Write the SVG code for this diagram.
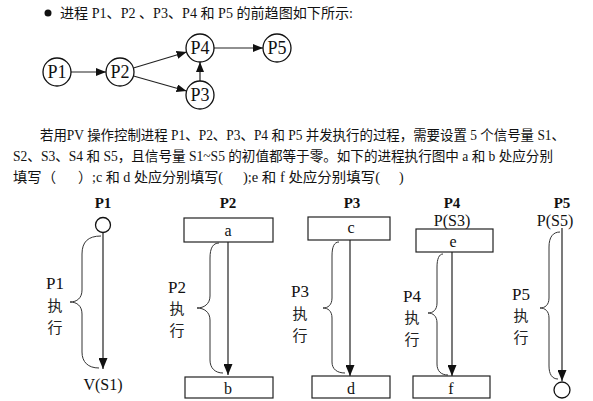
<svg xmlns="http://www.w3.org/2000/svg" width="593" height="401" viewBox="0 0 593 401">
<defs>
<style>
.t{font-family:"Liberation Serif","Times New Roman","Noto Sans CJK SC",serif;font-size:14px;fill:#111}
.n{font-family:"Liberation Serif","Times New Roman",serif;font-size:18px;fill:#111;text-anchor:middle}
.h{font-family:"Liberation Serif","Times New Roman",serif;font-size:15px;font-weight:bold;fill:#111;text-anchor:middle}
.s{font-family:"Liberation Serif","Times New Roman",serif;font-size:16px;fill:#111;text-anchor:middle}
.l{font-family:"Liberation Serif","Times New Roman",serif;font-size:17px;fill:#111;text-anchor:middle}
.c{font-family:"Noto Sans CJK SC",sans-serif;font-size:15px;fill:#222;text-anchor:middle}
.nd{fill:#fff;stroke:#111;stroke-width:1.3}
.bx{fill:#fff;stroke:#222;stroke-width:1.2}
.ln{fill:none;stroke:#222;stroke-width:1.2}
.br{fill:none;stroke:#333;stroke-width:1}
</style>
<marker id="ah" markerUnits="userSpaceOnUse" markerWidth="11" markerHeight="8" refX="10" refY="4" orient="auto"><path d="M0,0 L10,4 L0,8 z" fill="#111"/></marker>
<marker id="ah2" markerUnits="userSpaceOnUse" markerWidth="11" markerHeight="9" refX="11" refY="4.5" orient="auto"><path d="M0,0 L11,4.5 L0,9 z" fill="#111"/></marker>
</defs>
<rect width="593" height="401" fill="#fff"/>

<g id="intro">
<circle cx="48" cy="13" r="3.5" fill="#111"/>
<text class="t" x="60" y="18" textLength="293" lengthAdjust="spacingAndGlyphs">进程 P1、P2 、P3、P4 和 P5 的前趋图如下所示:</text>
</g>

<g id="connectors">
<line class="ln" x1="71" y1="72" x2="106" y2="72" marker-end="url(#ah)"/>
<line class="ln" x1="133.4" y1="68" x2="186.6" y2="52" marker-end="url(#ah)"/>
<line class="ln" x1="133.5" y1="76" x2="186.5" y2="91" marker-end="url(#ah)"/>
<line class="ln" x1="200" y1="81" x2="200" y2="62" marker-end="url(#ah)"/>
<line class="ln" x1="214" y1="48" x2="263" y2="48" marker-end="url(#ah)"/>
</g>
<g id="n1"><circle class="nd" cx="57" cy="72" r="14"/><text class="n" x="57" y="78">P1</text></g>
<g id="n2"><circle class="nd" cx="120" cy="72" r="14"/><text class="n" x="120" y="78">P2</text></g>
<g id="n4"><circle class="nd" cx="200" cy="48" r="14"/><text class="n" x="200" y="54">P4</text></g>
<g id="n5"><circle class="nd" cx="277" cy="48" r="14"/><text class="n" x="277" y="54">P5</text></g>
<g id="n3"><circle class="nd" cx="200" cy="95" r="14"/><text class="n" x="200" y="101">P3</text></g>

<g id="paragraph">
<text class="t" x="40" y="140" textLength="525" lengthAdjust="spacingAndGlyphs">若用PV 操作控制进程 P1、P2、P3、P4 和 P5 并发执行的过程，需要设置 5 个信号量 S1、</text>
<text class="t" x="13" y="161" textLength="540" lengthAdjust="spacingAndGlyphs">S2、S3、S4 和 S5，且信号量 S1~S5 的初值都等于零。如下的进程执行图中 a 和 b 处应分别</text>
<text class="t" y="182"><tspan x="13" textLength="43" lengthAdjust="spacingAndGlyphs">填写（</tspan><tspan x="78" textLength="145" lengthAdjust="spacingAndGlyphs">）;c 和 d 处应分别填写(</tspan><tspan x="243" textLength="137" lengthAdjust="spacingAndGlyphs">);e 和 f 处应分别填写(</tspan><tspan x="399">)</tspan></text>
</g>

<g id="proc1">
<text class="h" x="103" y="208">P1</text>
<circle class="nd" cx="103" cy="225" r="7.5"/>
<line class="ln" x1="103" y1="232.5" x2="103" y2="369" marker-end="url(#ah2)"/>
<path class="br" d="M101,236 C88,236 82,242 82,254 L82,290 C82,298 77,302 70,302 C77,302 82,306 82,314 L82,352 C82,362 88,368 99,368"/>
<text class="l" x="55" y="289">P1</text>
<text class="c" x="55" y="311">执</text>
<text class="c" x="55" y="333">行</text>
<text class="s" x="103" y="390">V(S1)</text>
</g>

<g id="proc2">
<text class="h" x="228" y="208">P2</text>
<rect class="bx" x="184" y="218" width="89" height="24"/>
<text class="s" x="228" y="236">a</text>
<line class="ln" x1="228" y1="242" x2="228" y2="375" marker-end="url(#ah2)"/>
<path class="br" d="M219,243 C213,243 210,248 210,258 L210,296 C210,304 204,308 197,308 C204,308 210,312 210,320 L210,360 C210,368 215,373 223,373"/>
<text class="l" x="177" y="293">P2</text>
<text class="c" x="177" y="314">执</text>
<text class="c" x="177" y="336">行</text>
<rect class="bx" x="185" y="377" width="88" height="21"/>
<text class="s" x="228" y="394">b</text>
</g>

<g id="proc3">
<text class="h" x="352" y="208">P3</text>
<rect class="bx" x="308" y="217" width="82" height="23"/>
<text class="s" x="351" y="233">c</text>
<line class="ln" x1="350" y1="240" x2="350" y2="376" marker-end="url(#ah2)"/>
<path class="br" d="M339,242 C334,242 332,247 332,256 L332,298 C332,305 328,308 323,308 C328,308 332,311 332,318 L332,362 C332,369 337,373 345,373"/>
<text class="l" x="300" y="297">P3</text>
<text class="c" x="300" y="319">执</text>
<text class="c" x="300" y="341">行</text>
<rect class="bx" x="312" y="376" width="78" height="22"/>
<text class="s" x="351" y="394">d</text>
</g>

<g id="proc4">
<text class="h" x="452" y="208">P4</text>
<text class="s" x="452" y="226">P(S3)</text>
<rect class="bx" x="416" y="229" width="77" height="23"/>
<text class="s" x="453" y="247">e</text>
<line class="ln" x1="452" y1="252" x2="452" y2="376" marker-end="url(#ah2)"/>
<path class="br" d="M443,254 C439,254 437,259 437,267 L437,303 C437,310 433,313 428,313 C433,313 437,316 437,323 L437,364 C437,371 441,375 448,375"/>
<text class="l" x="412" y="302">P4</text>
<text class="c" x="412" y="323">执</text>
<text class="c" x="412" y="345">行</text>
<rect class="bx" x="413" y="376" width="77" height="22"/>
<text class="s" x="451" y="394">f</text>
</g>

<g id="proc5">
<text class="h" x="562" y="208">P5</text>
<text class="s" x="555" y="226">P(S5)</text>
<line class="ln" x1="562" y1="228" x2="562" y2="381" marker-end="url(#ah2)"/>
<path class="br" d="M560,232 C553,232 549,237 549,247 L549,298 C549,305 545,308 540,308 C545,308 549,311 549,318 L549,366 C549,374 552,379 558,379"/>
<circle class="nd" cx="562" cy="390" r="8"/>
<text class="l" x="521" y="300">P5</text>
<text class="c" x="521" y="321">执</text>
<text class="c" x="521" y="343">行</text>
</g>
</svg>
